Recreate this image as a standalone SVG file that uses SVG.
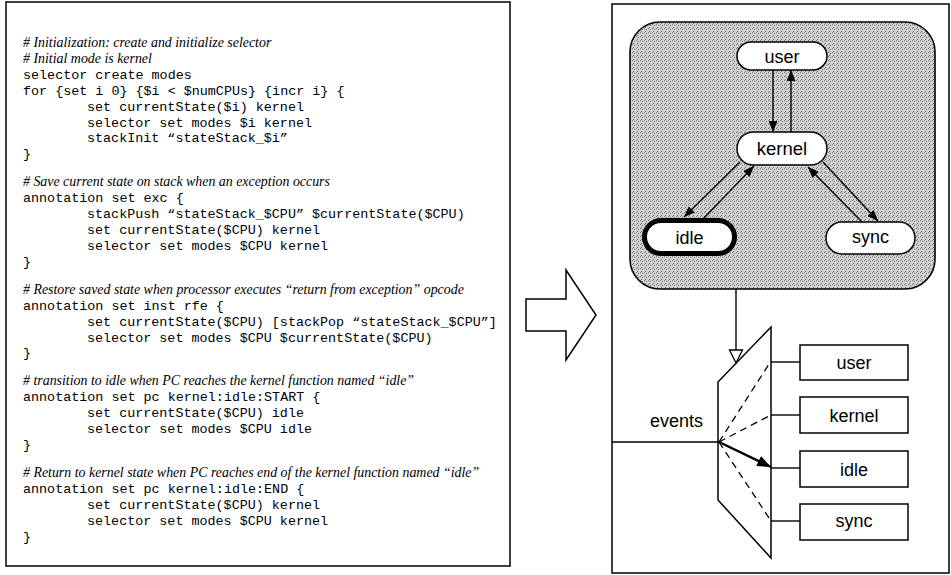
<svg xmlns="http://www.w3.org/2000/svg" width="951" height="575" viewBox="0 0 951 575">
  <style>
    .frame { fill: #fff; stroke: #000; stroke-width: 1.5; }
    .cmt { font-family: "Liberation Serif", "Times New Roman", serif; font-style: italic; font-size: 13.9px; fill: #000; }
    .code { font-family: "Liberation Mono", "Courier New", monospace; font-size: 13.4px; fill: #000; }
    .lbl { font-family: "Liberation Sans", Arial, sans-serif; font-size: 18px; fill: #000; text-anchor: middle; }
    .pill { fill: #fff; stroke: #000; stroke-width: 1.5; }
    .box { fill: #fff; stroke: #000; stroke-width: 1.5; }
    .edge { fill: none; stroke: #000; stroke-width: 1.4; }
    .dash { fill: none; stroke: #000; stroke-width: 1.3; stroke-dasharray: 7 5; }
  </style>
  <defs>
    <marker id="arrow" viewBox="0 0 10 8" refX="10" refY="4" markerWidth="11" markerHeight="9" markerUnits="userSpaceOnUse" orient="auto">
      <path d="M0,0 L10,4 L0,8 z" fill="#000"/>
    </marker>
    <marker id="arrowBig" viewBox="0 0 10 8" refX="10" refY="4" markerWidth="14" markerHeight="11" markerUnits="userSpaceOnUse" orient="auto">
      <path d="M0,0 L10,4 L0,8 z" fill="#000"/>
    </marker>
    <pattern id="halftone" width="4" height="4" patternUnits="userSpaceOnUse">
      <rect width="4" height="4" fill="#d2d2d2"/>
      <rect x="0" y="0" width="1" height="1" fill="#707070"/>
      <rect x="2" y="1" width="1" height="1" fill="#707070"/>
      <rect x="1" y="3" width="1" height="1" fill="#707070"/>
    </pattern>
  </defs>

  <!-- Script panel -->
  <g id="script-panel">
    <rect class="frame" x="6" y="2" width="504" height="564"/>
    <text class="cmt" x="23" y="47"># Initialization: create and initialize selector</text>
    <text class="cmt" x="23" y="62.9"># Initial mode is kernel</text>
    <text class="code" x="23" y="78.8">selector create modes</text>
    <text class="code" x="23" y="94.7">for {set i 0} {$i &lt; $numCPUs} {incr i} {</text>
    <text class="code" x="87" y="110.6">set currentState($i) kernel</text>
    <text class="code" x="87" y="126.5">selector set modes $i kernel</text>
    <text class="code" x="87" y="142.4">stackInit “stateStack_$i”</text>
    <text class="code" x="23" y="158.3">}</text>

    <text class="cmt" x="23" y="186.3"># Save current state on stack when an exception occurs</text>
    <text class="code" x="23" y="202.2">annotation set exc {</text>
    <text class="code" x="87" y="218.1">stackPush “stateStack_$CPU” $currentState($CPU)</text>
    <text class="code" x="87" y="234">set currentState($CPU) kernel</text>
    <text class="code" x="87" y="249.9">selector set modes $CPU kernel</text>
    <text class="code" x="23" y="265.8">}</text>

    <text class="cmt" x="23" y="293.8"># Restore saved state when processor executes “return from exception” opcode</text>
    <text class="code" x="23" y="309.7">annotation set inst rfe {</text>
    <text class="code" x="87" y="325.6">set currentState($CPU) [stackPop “stateStack_$CPU”]</text>
    <text class="code" x="87" y="341.5">selector set modes $CPU $currentState($CPU)</text>
    <text class="code" x="23" y="357.4">}</text>

    <text class="cmt" x="23" y="385.4"># transition to idle when PC reaches the kernel function named “idle”</text>
    <text class="code" x="23" y="401.3">annotation set pc kernel:idle:START {</text>
    <text class="code" x="87" y="417.2">set currentState($CPU) idle</text>
    <text class="code" x="87" y="433.1">selector set modes $CPU idle</text>
    <text class="code" x="23" y="449">}</text>

    <text class="cmt" x="23" y="477"># Return to kernel state when PC reaches end of the kernel function named “idle”</text>
    <text class="code" x="23" y="492.9">annotation set pc kernel:idle:END {</text>
    <text class="code" x="87" y="508.8">set currentState($CPU) kernel</text>
    <text class="code" x="87" y="524.7">selector set modes $CPU kernel</text>
    <text class="code" x="23" y="540.6">}</text>
  </g>

  <!-- Hollow block arrow between the panels -->
  <g id="block-arrow">
    <polygon points="526,299 566,299 566,270 596,315 566,360 566,331 526,331" fill="#fff" stroke="#000" stroke-width="1.5"/>
  </g>

  <!-- Mode panel frame and state machine background -->
  <g id="mode-panel">
    <rect class="frame" x="612" y="4" width="337" height="569"/>
    <rect x="630" y="22" width="305" height="267" rx="30" ry="30" fill="url(#halftone)" stroke="#000" stroke-width="1.6"/>
  </g>

  <!-- State nodes -->
  <g id="state-user">
    <rect class="pill" x="737" y="42" width="90" height="28" rx="14"/>
    <text class="lbl" x="782" y="62.5">user</text>
  </g>
  <g id="state-kernel">
    <rect class="pill" x="737" y="132" width="90" height="33" rx="16.5"/>
    <text class="lbl" x="782" y="155" style="font-size:18.5px">kernel</text>
  </g>
  <g id="state-idle">
    <rect x="644.5" y="220.5" width="90" height="33" rx="16.5" fill="#fff" stroke="#000" stroke-width="5"/>
    <text class="lbl" x="689.5" y="243.5">idle</text>
  </g>
  <g id="state-sync">
    <rect class="pill" x="826" y="222" width="89" height="32" rx="16"/>
    <text class="lbl" x="870.5" y="243">sync</text>
  </g>

  <!-- Selector (multiplexer) -->
  <g id="selector">
    <polygon points="718,382 771,327 771,558 718,500" fill="#fff" stroke="#000" stroke-width="1.5"/>
  </g>
  <g id="events-label">
    <text x="703" y="427" font-family="Liberation Sans, Arial, sans-serif" font-size="18" text-anchor="end">events</text>
  </g>

  <!-- Output buckets -->
  <g id="out-user">
    <rect class="box" x="800" y="345" width="108" height="35"/>
    <text class="lbl" x="854" y="369">user</text>
  </g>
  <g id="out-kernel">
    <rect class="box" x="800" y="397" width="108" height="36"/>
    <text class="lbl" x="854" y="421.5">kernel</text>
  </g>
  <g id="out-idle">
    <rect class="box" x="800" y="451" width="108" height="36"/>
    <text class="lbl" x="854" y="475.5">idle</text>
  </g>
  <g id="out-sync">
    <rect class="box" x="800" y="504" width="108" height="36"/>
    <text class="lbl" x="854" y="527">sync</text>
  </g>

  <!-- Connectors -->
  <g id="connectors">
    <!-- state transitions -->
    <line class="edge" x1="773" y1="70" x2="773" y2="132" marker-end="url(#arrow)"/>
    <line class="edge" x1="791" y1="132" x2="791" y2="70" marker-end="url(#arrow)"/>
    <line class="edge" x1="740" y1="162" x2="684" y2="217" marker-end="url(#arrow)"/>
    <line class="edge" x1="703" y1="219" x2="754" y2="166" marker-end="url(#arrow)"/>
    <line class="edge" x1="823" y1="162" x2="878" y2="221" marker-end="url(#arrow)"/>
    <line class="edge" x1="862" y1="222" x2="808" y2="167" marker-end="url(#arrow)"/>

    <!-- control input from the state machine into the selector -->
    <line class="edge" x1="736" y1="289" x2="736" y2="350"/>
    <polygon points="729.5,350 742.5,350 736,363" fill="#fff" stroke="#000" stroke-width="1.3"/>

    <!-- event input -->
    <line class="edge" x1="612" y1="442" x2="719" y2="442"/>

    <!-- selector paths -->
    <line class="dash" x1="719" y1="442" x2="771" y2="361"/>
    <line class="dash" x1="719" y1="442" x2="771" y2="415"/>
    <line class="dash" x1="719" y1="442" x2="771" y2="521"/>
    <line x1="719" y1="442" x2="771" y2="467" stroke="#000" stroke-width="2.4" marker-end="url(#arrowBig)"/>

    <!-- selector outputs to buckets -->
    <line class="edge" x1="771" y1="362" x2="800" y2="362"/>
    <line class="edge" x1="771" y1="415" x2="800" y2="415"/>
    <line class="edge" x1="771" y1="468" x2="800" y2="468"/>
    <line class="edge" x1="771" y1="521" x2="800" y2="521"/>
  </g>
</svg>
